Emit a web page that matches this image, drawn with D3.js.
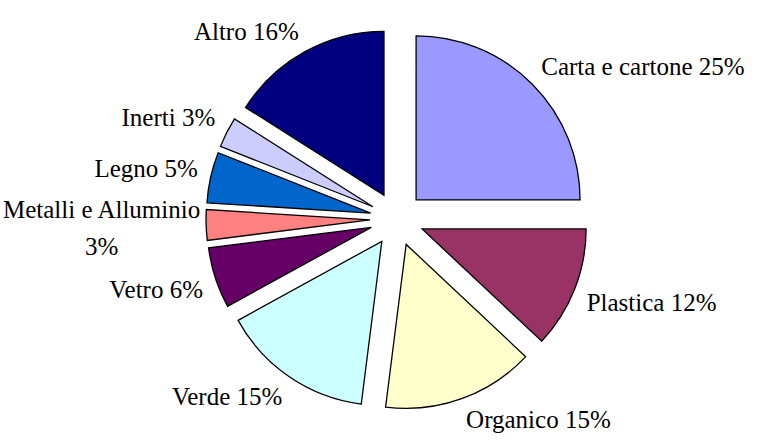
<!DOCTYPE html>
<html>
<head>
<meta charset="utf-8">
<script src="https://cdn.jsdelivr.net/npm/d3@7"></script>
<style>
  html, body { margin: 0; padding: 0; background: #fff; }
  svg { display: block; }
</style>
</head>
<body>
<svg id="chart" width="759" height="441"></svg>
<script>
// rifiuti: composizione percentuale
const categories = ["Carta e cartone", "Plastica", "Organico", "Verde", "Vetro",
                    "Metalli e Alluminio", "Legno", "Inerti", "Altro"];
const percents = [25, 12, 15, 15, 6, 3, 5, 3, 16];
const colors = ["#9999ff", "#993366", "#ffffcc", "#ccffff", "#660066",
                "#ff8080", "#0066cc", "#ccccff", "#000080"];

const width = 759, height = 441;
const cx = 397, cy = 219;
const radius = 164;
const explode = 27;
const labelRadius = 204;
const fontSize = 25, lineHeight = 37, capH = 17;
const pad = 3;

const svg = d3.select("#chart");

const data = categories.map((name, i) => ({name, value: percents[i], color: colors[i]}));

const pie = d3.pie().sort(null).value(d => d.value);
const arc = d3.arc().innerRadius(0).outerRadius(radius);
const arcs = pie(data);

const dir = d => {
  const a = (d.startAngle + d.endAngle) / 2;
  return [Math.sin(a), -Math.cos(a)];
};

const g = svg.append("g").attr("transform", `translate(${cx},${cy})`);

g.selectAll("path")
  .data(arcs)
  .join("path")
    .attr("d", arc)
    .attr("transform", d => {
      const [ux, uy] = dir(d);
      return `translate(${ux * explode},${uy * explode})`;
    })
    .attr("fill", d => d.data.color)
    .attr("stroke", "#000")
    .attr("stroke-width", 1.3)
    .attr("stroke-linejoin", "miter");

// etichette
const clamp = v => Math.max(-1, Math.min(1, v));

const labels = g.selectAll("text")
  .data(arcs)
  .join("text")
    .attr("font-family", "'Liberation Serif', 'Times New Roman', serif")
    .attr("font-size", fontSize)
    .attr("fill", "#000")
    .attr("text-anchor", "middle");

function place(t, d, lines) {
  t.selectAll("tspan").remove();
  lines.forEach((s, i) => t.append("tspan").attr("x", 0).attr("dy", i ? lineHeight : 0).text(s));
  const w = d3.max(t.selectAll("tspan").nodes(), n => n.getComputedTextLength());
  const h = capH + (lines.length - 1) * lineHeight;
  const [ux, uy] = dir(d);
  const px = ux * labelRadius + (w / 2) * clamp(ux * 3);
  const py = uy * labelRadius + (h / 2) * clamp(uy * 3);
  const left = cx + px - w / 2, right = cx + px + w / 2;
  return {w, h, px, py, left, right};
}

labels.each(function(d) {
  const t = d3.select(this);
  let b = place(t, d, [`${d.data.name} ${d.data.value}%`]);
  // a capo se esce dal riquadro
  if (b.left < 0 || b.right > width) b = place(t, d, [d.data.name, `${d.data.value}%`]);
  let px = b.px;
  if (b.left < pad) px += pad - b.left;
  if (b.right > width - pad) px -= b.right - (width - pad);
  t.selectAll("tspan").attr("x", px);
  t.attr("y", b.py - b.h / 2 + capH);
});
</script>
</body>
</html>
